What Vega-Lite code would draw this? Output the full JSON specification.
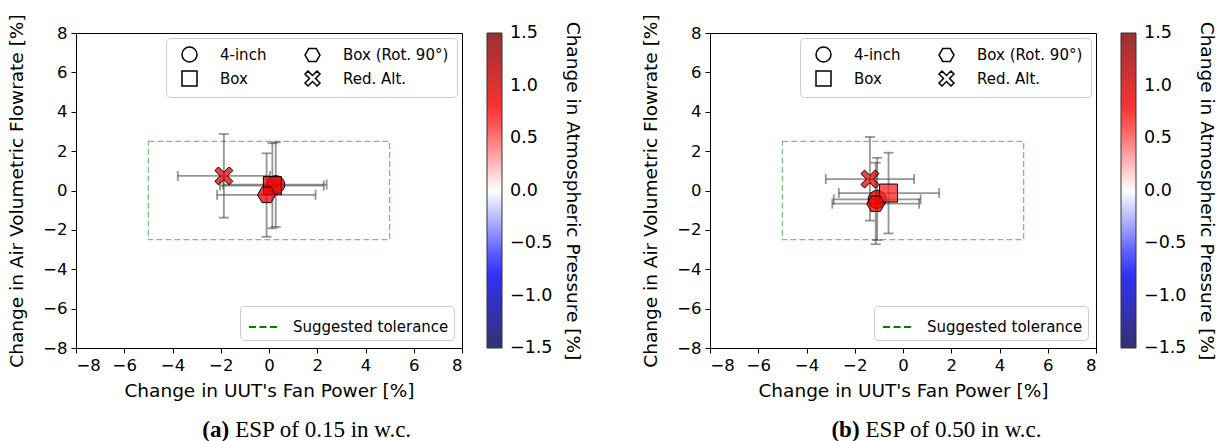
{
  "$schema": "https://vega.github.io/schema/vega-lite/v6.json",
  "background": "white",
  "padding": {"left": 7, "top": 13, "right": 2, "bottom": 0},
  "datasets": {
    "a": [
      {"cfg": "4-inch", "x": 0.28, "y": 0.3, "xlo": -1.9, "xhi": 2.39, "ylo": -1.85, "yhi": 2.45, "p": 0.85},
      {"cfg": "Box", "x": 0.14, "y": 0.25, "xlo": -2.03, "xhi": 2.27, "ylo": -1.92, "yhi": 2.4, "p": 0.85},
      {"cfg": "Box (Rot. 90°)", "x": -0.1, "y": -0.22, "xlo": -2.15, "xhi": 1.93, "ylo": -2.35, "yhi": 1.89, "p": 0.85},
      {"cfg": "Red. Alt.", "x": -1.87, "y": 0.74, "xlo": -3.78, "xhi": 0.04, "ylo": -1.38, "yhi": 2.87, "p": 0.85}
    ],
    "b": [
      {"cfg": "4-inch", "x": -1.07, "y": -0.45, "xlo": -2.87, "xhi": 0.73, "ylo": -2.52, "yhi": 1.66, "p": 0.8},
      {"cfg": "Box", "x": -0.6, "y": -0.13, "xlo": -2.66, "xhi": 1.5, "ylo": -2.18, "yhi": 1.92, "p": 0.65},
      {"cfg": "Box (Rot. 90°)", "x": -1.13, "y": -0.67, "xlo": -2.93, "xhi": 0.67, "ylo": -2.73, "yhi": 1.41, "p": 0.85},
      {"cfg": "Red. Alt.", "x": -1.37, "y": 0.58, "xlo": -3.2, "xhi": 0.46, "ylo": -1.53, "yhi": 2.72, "p": 0.85}
    ],
    "tol": [{"x1": -5, "x2": 5, "y1": -2.5, "y2": 2.5, "label": "Suggested tolerance"}]
  },
  "spacing": 57,
  "resolve": {
    "scale": {"fill": "independent", "shape": "independent", "stroke": "independent"},
    "legend": {"fill": "independent", "shape": "independent", "stroke": "independent"}
  },
  "hconcat": [
    {
      "width": 386, "height": 315,
      "layer": [
        {
          "data": {"name": "tol"},
          "mark": {"type": "rect", "fill": "transparent", "strokeDash": [6, 3], "strokeWidth": 1.3, "strokeOpacity": 0.5},
          "encoding": {
            "x": {"field": "x1", "type": "quantitative", "title": "Change in UUT's Fan Power [%]", "scale": {"domain": [-8, 8], "nice": false}, "axis": {"values": [-8, -6, -4, -2, 0, 2, 4, 6, 8], "labelOverlap": false}},
            "x2": {"field": "x2"},
            "y": {"field": "y1", "type": "quantitative", "title": "Change in Air Volumetric Flowrate [%]", "scale": {"domain": [-8, 8], "nice": false}, "axis": {"values": [-8, -6, -4, -2, 0, 2, 4, 6, 8], "tickCount": 9, "labelOverlap": false}},
            "y2": {"field": "y2"},
            "stroke": {"field": "label", "type": "nominal", "scale": {"domain": ["Suggested tolerance"], "range": ["#008000"]},
              "legend": {"orient": "bottom-right", "offset": 8, "title": null, "symbolType": "stroke", "symbolSize": 900, "symbolStrokeWidth": 2, "symbolDash": [7, 3.5], "symbolStrokeColor": "#008000", "symbolOpacity": 1, "labelFontSize": 15, "labelOffset": 13, "labelColor": "black", "padding": 5, "symbolOffset": 3, "fillColor": "rgba(255,255,255,0.8)", "strokeColor": "#cccccc", "cornerRadius": 4,
                "encode": {"symbols": {"update": {"strokeOpacity": {"value": 1}, "opacity": {"value": 1}}}}}}
          }
        },
        {
          "mark": {"type": "rule", "color": "#999999", "strokeDash": [5, 3.5], "strokeWidth": 1},
          "encoding": {"x": {"datum": 0, "type": "quantitative"}}
        },
        {
          "mark": {"type": "rule", "color": "#999999", "strokeDash": [5, 3.5], "strokeWidth": 1},
          "encoding": {"y": {"datum": 0, "type": "quantitative"}}
        },
        {
          "data": {"name": "a"},
          "mark": {"type": "errorbar", "ticks": {"size": 10}, "color": "#404040", "opacity": 0.55, "thickness": 1.8},
          "encoding": {
            "x": {"field": "xlo", "type": "quantitative", "title": "Change in UUT's Fan Power [%]"},
            "x2": {"field": "xhi"},
            "y": {"field": "y", "type": "quantitative", "title": "Change in Air Volumetric Flowrate [%]"}
          }
        },
        {
          "data": {"name": "a"},
          "mark": {"type": "errorbar", "ticks": {"size": 10}, "color": "#404040", "opacity": 0.55, "thickness": 1.8},
          "encoding": {
            "y": {"field": "ylo", "type": "quantitative", "title": "Change in Air Volumetric Flowrate [%]"},
            "y2": {"field": "yhi"},
            "x": {"field": "x", "type": "quantitative", "title": "Change in UUT's Fan Power [%]"}
          }
        },
        {
          "data": {"name": "a"},
          "mark": {"type": "point", "filled": true, "size": 324, "stroke": "black", "strokeWidth": 1, "opacity": 1, "fillOpacity": 0.75},
          "encoding": {
            "x": {"field": "x", "type": "quantitative", "title": "Change in UUT's Fan Power [%]"},
            "y": {"field": "y", "type": "quantitative", "title": "Change in Air Volumetric Flowrate [%]"},
            "fill": {"field": "p", "type": "quantitative",
              "scale": {"type": "linear", "nice": false, "zero": false, "interpolate": "rgb", "domain": [-1.5, -0.75, 0, 0.75, 1.5], "range": ["#00004d", "#0000ff", "#ffffff", "#ff0000", "#800000"]},
              "legend": {"type": "gradient", "orient": "right", "offset": 25, "direction": "vertical", "gradientLength": 315, "gradientThickness": 15, "gradientStrokeColor": "black", "gradientStrokeWidth": 1, "gradientOpacity": 0.8, "values": [-1.5, -1, -0.5, 0, 0.5, 1, 1.5], "format": ".1f", "labelFontSize": 17.5, "labelOffset": 8, "labelColor": "black", "labelBaseline": "middle", "labelOverlap": false, "title": "Change in Atmospheric Pressure [%]", "titleOrient": "right", "titleAnchor": "middle", "titleFontSize": 18.5, "titleFontWeight": "normal", "titleLimit": 500, "titlePadding": 11, "titleColor": "black",
                "encode": {"labels": {"update": {"baseline": {"value": "middle"}}}}}},
            "shape": {"field": "cfg", "type": "nominal", "sort": null,
              "scale": {"domain": ["4-inch", "Box", "Box (Rot. 90°)", "Red. Alt."], "range": ["circle", "square", "M-1,0L-0.5,-0.866L0.5,-0.866L1,0L0.5,0.866L-0.5,0.866Z", "M-1,-0.6L-0.6,-1L0,-0.4L0.6,-1L1,-0.6L0.4,0L1,0.6L0.6,1L0,0.4L-0.6,1L-1,0.6L-0.4,0Z"]},
              "legend": {"orient": "top-right", "offset": 5, "title": null, "values": ["4-inch", "Box", "Box (Rot. 90°)", "Red. Alt."], "columns": 2, "columnPadding": 30, "rowPadding": 3, "padding": 8, "symbolSize": 225, "symbolOffset": 7, "labelOffset": 22, "labelFontSize": 15, "labelColor": "black", "fillColor": "rgba(255,255,255,0.8)", "strokeColor": "#cccccc", "cornerRadius": 4, "symbolStrokeWidth": 1.5, "symbolFillColor": "white", "symbolStrokeColor": "black", "symbolOpacity": 1}}
          }
        },
        {
          "data": {"values": [{"c": "(a)"}]},
          "mark": {"type": "text", "font": "Liberation Serif", "fontSize": 23, "fontWeight": "bold", "align": "right", "baseline": "alphabetic", "color": "black"},
          "encoding": {"x": {"datum": -1.65, "type": "quantitative"}, "y": {"datum": -12.5, "type": "quantitative"}, "text": {"field": "c"}}
        },
        {
          "data": {"values": [{"c": "ESP of 0.15 in w.c."}]},
          "mark": {"type": "text", "font": "Liberation Serif", "fontSize": 23, "align": "left", "baseline": "alphabetic", "dx": 6, "color": "black"},
          "encoding": {"x": {"datum": -1.65, "type": "quantitative"}, "y": {"datum": -12.5, "type": "quantitative"}, "text": {"field": "c"}}
        }
      ]
    },
    {
      "width": 386, "height": 315,
      "layer": [
        {
          "data": {"name": "tol"},
          "mark": {"type": "rect", "fill": "transparent", "strokeDash": [6, 3], "strokeWidth": 1.3, "strokeOpacity": 0.5},
          "encoding": {
            "x": {"field": "x1", "type": "quantitative", "title": "Change in UUT's Fan Power [%]", "scale": {"domain": [-8, 8], "nice": false}, "axis": {"values": [-8, -6, -4, -2, 0, 2, 4, 6, 8], "labelOverlap": false}},
            "x2": {"field": "x2"},
            "y": {"field": "y1", "type": "quantitative", "title": "Change in Air Volumetric Flowrate [%]", "scale": {"domain": [-8, 8], "nice": false}, "axis": {"values": [-8, -6, -4, -2, 0, 2, 4, 6, 8], "tickCount": 9, "labelOverlap": false}},
            "y2": {"field": "y2"},
            "stroke": {"field": "label", "type": "nominal", "scale": {"domain": ["Suggested tolerance"], "range": ["#008000"]},
              "legend": {"orient": "bottom-right", "offset": 8, "title": null, "symbolType": "stroke", "symbolSize": 900, "symbolStrokeWidth": 2, "symbolDash": [7, 3.5], "symbolStrokeColor": "#008000", "symbolOpacity": 1, "labelFontSize": 15, "labelOffset": 13, "labelColor": "black", "padding": 5, "symbolOffset": 3, "fillColor": "rgba(255,255,255,0.8)", "strokeColor": "#cccccc", "cornerRadius": 4,
                "encode": {"symbols": {"update": {"strokeOpacity": {"value": 1}, "opacity": {"value": 1}}}}}}
          }
        },
        {
          "mark": {"type": "rule", "color": "#999999", "strokeDash": [5, 3.5], "strokeWidth": 1},
          "encoding": {"x": {"datum": 0, "type": "quantitative"}}
        },
        {
          "mark": {"type": "rule", "color": "#999999", "strokeDash": [5, 3.5], "strokeWidth": 1},
          "encoding": {"y": {"datum": 0, "type": "quantitative"}}
        },
        {
          "data": {"name": "b"},
          "mark": {"type": "errorbar", "ticks": {"size": 10}, "color": "#404040", "opacity": 0.55, "thickness": 1.8},
          "encoding": {
            "x": {"field": "xlo", "type": "quantitative", "title": "Change in UUT's Fan Power [%]"},
            "x2": {"field": "xhi"},
            "y": {"field": "y", "type": "quantitative", "title": "Change in Air Volumetric Flowrate [%]"}
          }
        },
        {
          "data": {"name": "b"},
          "mark": {"type": "errorbar", "ticks": {"size": 10}, "color": "#404040", "opacity": 0.55, "thickness": 1.8},
          "encoding": {
            "y": {"field": "ylo", "type": "quantitative", "title": "Change in Air Volumetric Flowrate [%]"},
            "y2": {"field": "yhi"},
            "x": {"field": "x", "type": "quantitative", "title": "Change in UUT's Fan Power [%]"}
          }
        },
        {
          "data": {"name": "b"},
          "mark": {"type": "point", "filled": true, "size": 324, "stroke": "black", "strokeWidth": 1, "opacity": 1, "fillOpacity": 0.75},
          "encoding": {
            "x": {"field": "x", "type": "quantitative", "title": "Change in UUT's Fan Power [%]"},
            "y": {"field": "y", "type": "quantitative", "title": "Change in Air Volumetric Flowrate [%]"},
            "fill": {"field": "p", "type": "quantitative",
              "scale": {"type": "linear", "nice": false, "zero": false, "interpolate": "rgb", "domain": [-1.5, -0.75, 0, 0.75, 1.5], "range": ["#00004d", "#0000ff", "#ffffff", "#ff0000", "#800000"]},
              "legend": {"type": "gradient", "orient": "right", "offset": 25, "direction": "vertical", "gradientLength": 315, "gradientThickness": 15, "gradientStrokeColor": "black", "gradientStrokeWidth": 1, "gradientOpacity": 0.8, "values": [-1.5, -1, -0.5, 0, 0.5, 1, 1.5], "format": ".1f", "labelFontSize": 17.5, "labelOffset": 8, "labelColor": "black", "labelBaseline": "middle", "labelOverlap": false, "title": "Change in Atmospheric Pressure [%]", "titleOrient": "right", "titleAnchor": "middle", "titleFontSize": 18.5, "titleFontWeight": "normal", "titleLimit": 500, "titlePadding": 11, "titleColor": "black",
                "encode": {"labels": {"update": {"baseline": {"value": "middle"}}}}}},
            "shape": {"field": "cfg", "type": "nominal", "sort": null,
              "scale": {"domain": ["4-inch", "Box", "Box (Rot. 90°)", "Red. Alt."], "range": ["circle", "square", "M-1,0L-0.5,-0.866L0.5,-0.866L1,0L0.5,0.866L-0.5,0.866Z", "M-1,-0.6L-0.6,-1L0,-0.4L0.6,-1L1,-0.6L0.4,0L1,0.6L0.6,1L0,0.4L-0.6,1L-1,0.6L-0.4,0Z"]},
              "legend": {"orient": "top-right", "offset": 5, "title": null, "values": ["4-inch", "Box", "Box (Rot. 90°)", "Red. Alt."], "columns": 2, "columnPadding": 30, "rowPadding": 3, "padding": 8, "symbolSize": 225, "symbolOffset": 7, "labelOffset": 22, "labelFontSize": 15, "labelColor": "black", "fillColor": "rgba(255,255,255,0.8)", "strokeColor": "#cccccc", "cornerRadius": 4, "symbolStrokeWidth": 1.5, "symbolFillColor": "white", "symbolStrokeColor": "black", "symbolOpacity": 1}}
          }
        },
        {
          "data": {"values": [{"c": "(b)"}]},
          "mark": {"type": "text", "font": "Liberation Serif", "fontSize": 23, "fontWeight": "bold", "align": "right", "baseline": "alphabetic", "color": "black"},
          "encoding": {"x": {"datum": -1.8, "type": "quantitative"}, "y": {"datum": -12.5, "type": "quantitative"}, "text": {"field": "c"}}
        },
        {
          "data": {"values": [{"c": "ESP of 0.50 in w.c."}]},
          "mark": {"type": "text", "font": "Liberation Serif", "fontSize": 23, "align": "left", "baseline": "alphabetic", "dx": 6, "color": "black"},
          "encoding": {"x": {"datum": -1.8, "type": "quantitative"}, "y": {"datum": -12.5, "type": "quantitative"}, "text": {"field": "c"}}
        }
      ]
    }
  ],
  "config": {
    "font": "DejaVu Sans",
    "view": {"stroke": "black", "strokeWidth": 1},
    "axis": {"grid": false, "domainColor": "black", "tickColor": "black", "labelColor": "black", "titleColor": "black", "labelFontSize": 16.5, "titleFontSize": 18.5, "titleFontWeight": "normal", "tickSize": 5, "labelPadding": 4, "labelFont": "DejaVu Sans", "titleFont": "DejaVu Sans", "titleLimit": 1000, "labelOverlap": false},
    "axisX": {"titlePadding": 8},
    "axisY": {"titlePadding": 16, "labelOverlap": false},
    "legend": {"labelFont": "DejaVu Sans", "titleFont": "DejaVu Sans"}
  }
}
